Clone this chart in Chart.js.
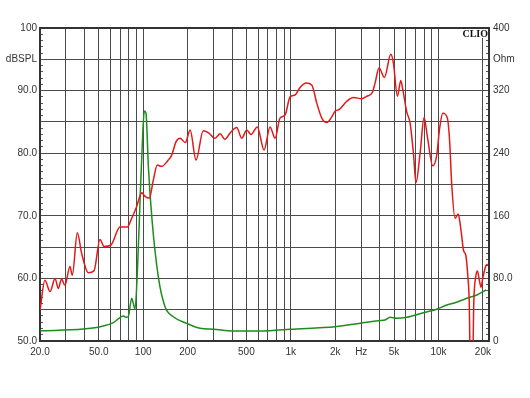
<!DOCTYPE html>
<html>
<head>
<meta charset="utf-8">
<title>SPL / impedance</title>
<script src="https://cdn.jsdelivr.net/npm/chart.js@4.4.1/dist/chart.umd.min.js"></script>
<style>
  html, body { margin: 0; padding: 0; background: #fff; }
  #wrap { width: 530px; height: 398px; }
</style>
</head>
<body>
<div id="wrap"><canvas id="myChart" width="530" height="398"></canvas></div>
<script>
// SPL curve (red), frequency in Hz and level in dB
var splFreq = [20, 21.6, 23.4, 25.3, 26.6, 28.0, 29.5, 31.9, 33.1, 35.8, 38.3, 42.5, 46.4, 51.0, 54.3, 60.3, 69.7, 78.0,
    83.6, 90.4, 97.8, 102.9, 110.1, 117.1, 124.6, 133.5, 147.9, 156.0, 166.8, 177.7, 193, 208, 228, 255, 276, 307, 332,
    358, 387, 430, 465, 503, 538, 593, 659, 723, 782, 845, 914, 988, 1069, 1156, 1269, 1386, 1499, 1621, 1751, 1893,
    1994, 2133, 2393, 2654, 3026, 3269, 3567, 3720, 3960, 4305, 4756, 4955, 5272, 5560, 5740, 6100, 6428, 6768, 7050,
    7510, 7995, 8420, 9150, 9740, 10150, 10700, 11490, 11900, 12300, 12960, 13600, 14010, 14390, 14770, 15320, 15820,
    16150, 16560, 16980, 17350, 17900, 18370, 18930, 19440, 19950, 20940, 21530];
var splDb = [54.9, 59.7, 57.9, 60.0, 58.4, 59.9, 58.9, 61.9, 60.5, 67.3, 64.0, 60.9, 61.2, 66.2, 65.1, 65.3, 68.2, 68.2,
    69.6, 71.5, 73.7, 73.1, 72.8, 75.7, 78.1, 77.9, 78.9, 79.7, 81.8, 82.4, 81.7, 83.7, 78.9, 83.6, 83.3, 82.4, 83.1,
    82.2, 83.2, 84.1, 82.4, 83.7, 83.0, 84.2, 80.5, 84.2, 82.4, 85.6, 86.1, 89.0, 89.3, 90.5, 91.2, 90.9, 88.0, 85.6,
    84.9, 85.8, 86.7, 87.0, 88.3, 88.9, 88.7, 89.1, 89.7, 91.2, 93.6, 92.1, 95.8, 94.4, 89.1, 91.6, 90.1, 86.6, 84.8,
    80.0, 75.3, 80.0, 85.7, 82.6, 78.0, 79.7, 83.7, 86.4, 85.6, 82.0, 75.0, 69.6, 70.3, 68.8, 66.7, 64.5, 63.7, 60.3,
    56.5, 42, 43, 56.0, 60.3, 61.2, 59.7, 58.6, 60.0, 62.0, 62.3];

// impedance curve (green), Ohm on the right axis
var impFreq = [20, 39.3, 51.0, 62.8, 73.4, 76.5, 79.3, 83.6, 88.0, 91.2, 94.2, 95.2, 99.3, 101.8, 104.5, 108.4, 114.8,
    126.6, 140.6, 160, 197, 243, 299, 408, 723, 988, 1994, 2946, 3920, 4350, 4700, 5220, 6100, 7910, 9740, 11390,
    12620, 15560, 18190, 21020];
var impOhm = [13.0, 15.3, 18.3, 23.4, 32.0, 30.3, 31.5, 54.6, 40.7, 86, 154.6, 180, 265, 294, 291, 223, 154.6,
    82, 43.8, 31, 22.6, 16.2, 15, 12.8, 13.2, 15, 18.3, 22.6, 26, 26.8, 30.3, 29, 30.3, 36.2, 40.5, 46,
    48.2, 54.6, 58.8, 65.2];

// axis grid and labels
var freqGrid = [20, 30, 40, 50, 60, 70, 80, 90, 100, 200, 300, 400, 500, 600, 700, 800, 900, 1000, 2000, 3000, 4000,
    5000, 6000, 7000, 8000, 9000, 10000, 20000];
var freqLabelValues = [20, 50, 100, 200, 500, 1000, 2000, 3000, 5000, 10000, 20000];
var freqLabelTexts = ['20.0', '50.0', '100', '200', '500', '1k', '2k', 'Hz', '5k', '10k', '20k'];
var dbLabelValues = [50, 60, 70, 80, 90, 95, 100];
var dbLabelTexts = ['50.0', '60.0', '70.0', '80.0', '90.0', 'dBSPL', '100'];
var ohmLabelValues = [0, 80, 160, 240, 320, 360, 400];
var ohmLabelTexts = ['0', '80.0', '160', '240', '320', 'Ohm', '400'];

function pickLabel(values, texts, v) {
    var i = values.indexOf(v);
    return i >= 0 ? texts[i] : '';
}

// minor tick marks: 1 dB on the left, 8 Ohm on the right
var dbTicks = [];
var ohmTicks = [];
for (var i = 0; i <= 50; i++) {
    dbTicks.push(50 + i);
    ohmTicks.push(i * 8);
}

var gridColor = '#4a4a4a';

// frame and the CLIO mark
var framePlugin = {
    id: 'frame',
    beforeDatasetsDraw: function(chart) {
        var a = chart.chartArea;
        var c = chart.ctx;
        c.save();
        c.strokeStyle = '#333';
        c.lineWidth = 2;
        c.strokeRect(a.left, a.top, a.right - a.left, a.bottom - a.top);
        c.restore();
    },
    afterDraw: function(chart) {
        var a = chart.chartArea;
        var c = chart.ctx;
        c.save();
        c.fillStyle = '#fff';
        c.fillRect(a.right - 25, a.top + 1, 24, 9);
        c.font = 'bold 10px "Liberation Serif", serif';
        c.fillStyle = '#111';
        c.textAlign = 'right';
        c.textBaseline = 'top';
        c.fillText('CLIO', a.right - 1, a.top + 1);
        c.restore();
    }
};

Chart.defaults.font.family = '"Liberation Sans", Arial, sans-serif';
Chart.defaults.font.size = 10;
Chart.defaults.color = '#333';

var ctx = document.getElementById('myChart').getContext('2d');
var myChart = new Chart(ctx, {
    type: 'line',
    data: {
        datasets: [{
            label: 'SPL',
            yAxisID: 'y',
            borderColor: '#e31919',
            borderWidth: 1.5,
            pointRadius: 0,
            cubicInterpolationMode: 'monotone',
            data: splFreq.map(function(f, i) { return {x: f, y: splDb[i]}; })
        }, {
            label: 'Impedance',
            yAxisID: 'y2',
            borderColor: '#1e8c1e',
            borderWidth: 1.5,
            pointRadius: 0,
            cubicInterpolationMode: 'monotone',
            data: impFreq.map(function(f, i) { return {x: f, y: impOhm[i]}; })
        }]
    },
    options: {
        responsive: false,
        animation: false,
        devicePixelRatio: 1,
        layout: { padding: { top: 28, left: 0, right: 0, bottom: 0 } },
        plugins: { legend: { display: false }, tooltip: { enabled: false } },
        scales: {
            x: {
                type: 'logarithmic',
                min: 20,
                max: 22000,
                afterBuildTicks: function(scale) {
                    scale.ticks = freqGrid.map(function(v) { return {value: v}; });
                },
                afterFit: function(scale) { scale.height = 57; },
                border: { display: false },
                grid: { color: gridColor, lineWidth: 1, drawTicks: false },
                ticks: {
                    autoSkip: false,
                    maxRotation: 0,
                    padding: 5,
                    callback: function(v) { return pickLabel(freqLabelValues, freqLabelTexts, v); }
                }
            },
            y: {
                position: 'left',
                min: 50,
                max: 100,
                afterBuildTicks: function(scale) {
                    scale.ticks = dbTicks.map(function(v) { return {value: v}; });
                },
                afterFit: function(scale) { scale.width = 40; },
                border: { display: false },
                grid: {
                    color: function(c) { return c.tick && c.tick.value % 5 === 0 ? gridColor : 'rgba(0,0,0,0)'; },
                    lineWidth: 1,
                    tickLength: -3,
                    tickColor: '#555'
                },
                ticks: {
                    autoSkip: false,
                    padding: 6,
                    callback: function(v) { return pickLabel(dbLabelValues, dbLabelTexts, v); }
                }
            },
            y2: {
                position: 'right',
                min: 0,
                max: 400,
                afterBuildTicks: function(scale) {
                    scale.ticks = ohmTicks.map(function(v) { return {value: v}; });
                },
                afterFit: function(scale) { scale.width = 41; },
                border: { display: false },
                grid: { drawOnChartArea: false, tickLength: -3, tickColor: '#555' },
                ticks: {
                    autoSkip: false,
                    padding: 7,
                    callback: function(v) { return pickLabel(ohmLabelValues, ohmLabelTexts, v); }
                }
            }
        }
    },
    plugins: [framePlugin]
});
</script>
</body>
</html>
